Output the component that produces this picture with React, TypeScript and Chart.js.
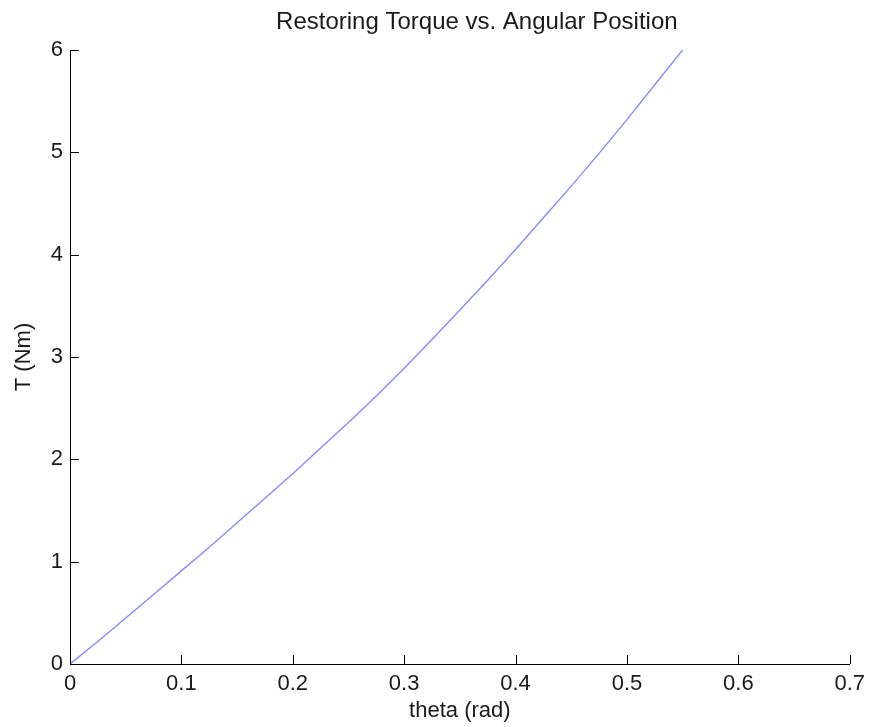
import React, { useEffect, useRef } from "react";
import { Chart, registerables } from "chart.js";

Chart.register(...registerables);

const thetaValues = [0, 0.025, 0.05, 0.075, 0.1, 0.125, 0.15, 0.175, 0.2, 0.225, 0.25, 0.275, 0.3, 0.325, 0.35, 0.375, 0.4, 0.425, 0.45, 0.475, 0.5, 0.525, 0.55];
const torqueValues = [0, 0.22, 0.45, 0.68, 0.91, 1.14, 1.38, 1.62, 1.86, 2.11, 2.36, 2.62, 2.89, 3.17, 3.46, 3.75, 4.05, 4.36, 4.67, 4.99, 5.32, 5.66, 6.0];

const titleText = "Restoring Torque vs. Angular Position";
const xTitle = "theta (rad)";
const yTitle = "T (Nm)";

const FONT = "'Liberation Sans', Arial, Helvetica, sans-serif";
const TEXT = "#1a1a1a";

const decorPlugin = {
  id: "decor",
  afterDraw(chart: any) {
    const ctx = chart.ctx;
    const area = chart.chartArea;
    const xs = chart.scales.x;
    const ys = chart.scales.y;
    ctx.save();
    // inward ticks
    ctx.strokeStyle = "#000";
    ctx.lineWidth = 1;
    ctx.beginPath();
    xs.ticks.forEach((t: any) => {
      const px = Math.round(xs.getPixelForValue(t.value)) + 0.5;
      ctx.moveTo(px, area.bottom);
      ctx.lineTo(px, area.bottom - 9);
    });
    ys.ticks.forEach((t: any) => {
      const py = Math.round(ys.getPixelForValue(t.value)) + 0.5;
      ctx.moveTo(area.left, py);
      ctx.lineTo(area.left + 9, py);
    });
    ctx.stroke();
    // titles
    ctx.fillStyle = TEXT;
    ctx.textAlign = "center";
    ctx.textBaseline = "middle";
    ctx.font = `24px ${FONT}`;
    ctx.fillText(titleText, (area.left + area.right) / 2 + 17, 22);
    ctx.font = `22px ${FONT}`;
    ctx.fillText(xTitle, (area.left + area.right) / 2, 711);
    ctx.translate(24, (area.top + area.bottom) / 2);
    ctx.rotate(-Math.PI / 2);
    ctx.fillText(yTitle, 0, 0);
    ctx.restore();
  },
};

export default function App() {
  const ref = useRef<HTMLCanvasElement>(null);
  useEffect(() => {
    if (!ref.current) return;
    const chart = new Chart(ref.current, {
      type: "line",
      data: {
        datasets: [
          {
            data: thetaValues.map((x, i) => ({ x, y: torqueValues[i] })),
            borderColor: "rgba(40,40,255,0.55)",
            borderWidth: 1.4,
            pointRadius: 0,
            tension: 0,
            fill: false,
          },
        ],
      },
      options: {
        animation: false,
        responsive: false,
        events: [],
        layout: { padding: { left: 0, right: 20, top: 50, bottom: 0 } },
        plugins: { legend: { display: false }, tooltip: { enabled: false }, title: { display: false } },
        scales: {
          x: {
            type: "linear",
            min: 0,
            max: 0.7,
            grid: { display: false, drawTicks: false, tickLength: 0 },
            border: { display: true, color: "#000", width: 1 },
            ticks: {
              stepSize: 0.1,
              padding: 7,
              color: TEXT,
              font: { family: FONT, size: 22 },
              maxRotation: 0,
              callback: (v: any) => String(Number(Number(v).toFixed(1))),
            },
            afterFit: (s: any) => { s.height = 63; },
          },
          y: {
            type: "linear",
            min: 0,
            max: 6,
            grid: { display: false, drawTicks: false, tickLength: 0 },
            border: { display: true, color: "#000", width: 1 },
            ticks: {
              stepSize: 1,
              padding: 7,
              color: TEXT,
              font: { family: FONT, size: 22 },
            },
            afterFit: (s: any) => { s.width = 70; },
          },
        },
      },
      plugins: [decorPlugin],
    });
    return () => chart.destroy();
  }, []);
  return (
    <div style={{ position: "absolute", left: 0, top: 0, width: 872, height: 727, background: "#fff" }}>
      <canvas ref={ref} width={872} height={727} />
    </div>
  );
}
